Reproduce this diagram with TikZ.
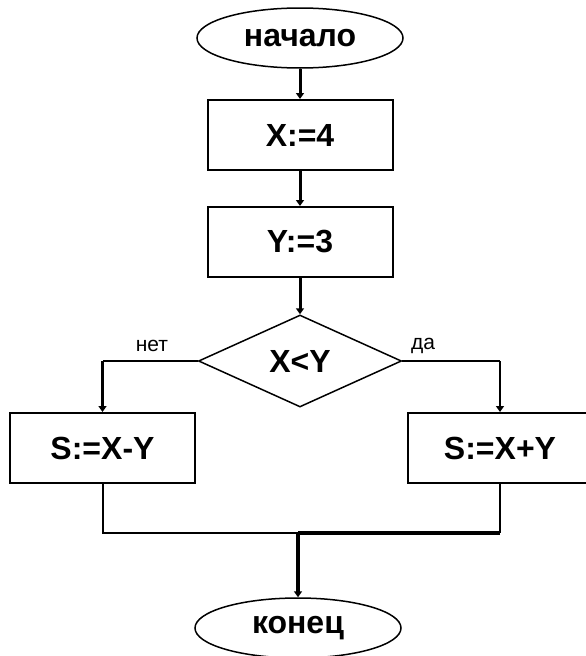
\documentclass[tikz,border=0pt]{standalone}
\usepackage{fontspec}
\setmainfont{Liberation Sans}
\usetikzlibrary{shapes.geometric,arrows.meta}
\tikzset{
  bigtxt/.style={font=\fontsize{32}{36}\selectfont\bfseries},
  smalltxt/.style={font=\fontsize{21}{24}\selectfont},
  term/.style={ellipse,draw,line width=1.5pt,inner sep=0pt,minimum width=206pt,minimum height=60pt,bigtxt},
  proc/.style={rectangle,draw,line width=2pt,inner sep=0pt,minimum width=185pt,minimum height=70pt,bigtxt},
  cond/.style={diamond,draw,line width=1.5pt,inner sep=0pt,minimum width=203pt,minimum height=92pt,bigtxt},
  arr/.style={-{Triangle[length=6pt,width=8pt]}},
  thickl/.style={line width=3pt},
  thinl/.style={line width=2pt},
  heavyl/.style={line width=4pt}
}
\begin{document}
\begin{tikzpicture}[x=1pt,y=-1pt]
\useasboundingbox (0,0) rectangle (586,656);
\fill[white] (0,0) rectangle (586,656);
\node[term] (start) at (300,38) {начало};
\node[proc] (b1) at (300,135) {X:=4};
\node[proc] (b2) at (300,242) {Y:=3};
\node[cond] (dec) at (300,361) {X<Y};
\node[proc] (lbox) at (102.5,448) {S:=X-Y};
\node[proc] (rbox) at (500,448) {S:=X+Y};
\node[term] (fin) at (298,628) {конец};
\node[smalltxt] (no) at (152,346) {нет};
\node[smalltxt] (yes) at (423,346) {да};
\coordinate (lc) at (dec.west -| lbox.north);
\coordinate (rc) at (dec.east -| rbox.north);
\coordinate (j) at (298,533);
\draw[thickl,arr] (start) -- (b1);
\draw[thickl,arr] (b1) -- (b2);
\draw[thickl,arr] (b2) -- (dec);
\draw[thinl] (dec.west) -- (lc);
\draw[thickl,arr] (lc) -- (lbox.north);
\draw[thinl] (dec.east) -- (rc);
\draw[thinl,arr] (rc) -- (rbox.north);
\draw[thinl] (lbox.south) -- (lbox.south |- j) -- (j);
\draw[thinl] (rbox.south) -- (rbox.south |- j);
\draw[heavyl] (rbox.south |- j) -- (j);
\draw[heavyl,arr] (j) -- (fin.north);
\end{tikzpicture}
\end{document}
